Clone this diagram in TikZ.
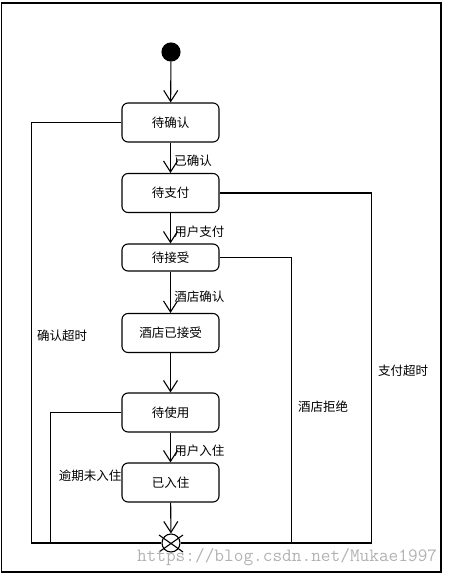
\documentclass[tikz,border=0pt]{standalone}
\usepackage{fontspec}
\setmainfont{Noto Sans CJK SC}
\usetikzlibrary{arrows.meta}
\tikzstyle{state}=[rectangle, draw, rounded corners=6pt, minimum width=97pt, minimum height=39pt, inner sep=0pt, font=\fontsize{12.5}{14}\selectfont]
\tikzstyle{start}=[circle, draw, fill=black, minimum size=18pt, inner sep=0pt]
\tikzstyle{finish}=[circle, draw, minimum size=18pt, inner sep=0pt]
\tikzstyle{lbl}=[font=\fontsize{12.5}{14}\selectfont]
\tikzstyle{flow}=[-{Straight Barb[length=11pt, width=14pt]}]

\begin{document}
\begin{tikzpicture}[x=1pt, y=-1pt, line width=1.1pt, every node/.style={lbl}]
                \useasboundingbox (0,0) rectangle (454,580);
                \draw (1.5,3) rectangle (441,572);
                \node[start] (s) at (171,52) {};
                \node[state] (a) at (170.5,122.5) {待确认};
                \node[state] (b) at (170.5,193) {待支付};
                \node[state, minimum height=27pt] (c) at (170.5,257.5) {待接受};
                \node[state] (d) at (170.5,333) {酒店已接受};
                \node[state] (u) at (170.5,412.5) {待使用};
                \node[state] (r) at (170.5,482.5) {已入住};
                \node[finish] (e) at (171,543) {};
                \draw (e.center)+(-12,-8) -- +(12,9) (e.center)+(12,-8) -- +(-12,9);
                \draw[flow] (s)--(a);
                \draw[flow] (a)--(b) node[pos=0.6, right] {已确认};
                \draw[flow] (b)--(c) node[pos=0.6, right] {用户支付};
                \draw[flow] (c)--(d) node[pos=0.6, right] {酒店确认};
                \draw[flow] (d)--(u);
                \draw[flow] (u)--(r) node[pos=0.6, right] {用户入住};
                \draw[flow] (r)--(e);
                \draw (a.west) -- ++(-90,0) |- (e);
                \draw (u.west) -- ++(-71,0) |- (e);
                \draw (b.east) -- ++(152,0) |- (e);
                \draw (c.east) -- ++(72,0) |- (e);
                \node (t1) at (62,336) {确认超时};
                \node (t2) at (90,476) {逾期未入住};
                \node (t3) at (323,407) {酒店拒绝};
                \node (t4) at (403,371) {支付超时};
                \node[anchor=east, text=black!30, font=\ttfamily\fontsize{18.8}{20}\selectfont] (w) at (441,557) {https://blog.csdn.net/Mukae1997};
            \end{tikzpicture}
\end{document}
